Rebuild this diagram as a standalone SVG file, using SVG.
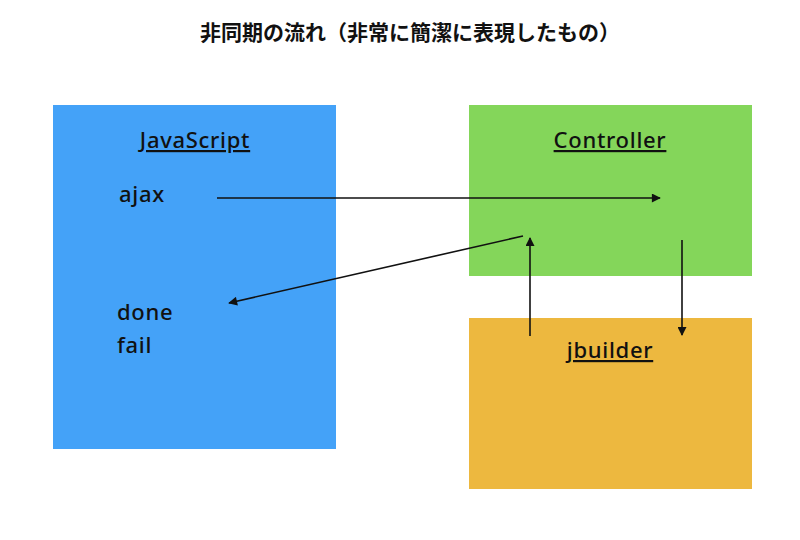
<svg xmlns="http://www.w3.org/2000/svg" width="800" height="540" viewBox="0 0 800 540">
<defs>
<style>
.lbl{font-family:"Noto Sans","Liberation Sans",Arial,sans-serif;font-size:22px;font-weight:500;fill:#111;letter-spacing:0.7px;}
.ttl{text-decoration:underline;}
.ln{stroke:#111;stroke-width:1.6;fill:none;marker-end:url(#ah);}
.title{font-family:"Noto Sans CJK JP","Noto Sans CJK SC",sans-serif;font-size:21px;font-weight:bold;fill:#111;}
</style>
<marker id="ah" viewBox="0 0 10 10" refX="9" refY="5" markerWidth="11" markerHeight="9" markerUnits="userSpaceOnUse" orient="auto">
<path d="M0,0 L10,5 L0,10 z" fill="#111"/>
</marker>
</defs>
<rect width="800" height="540" fill="#fff"/>
<text class="title" x="410" y="40" text-anchor="middle">非同期の流れ（非常に簡潔に表現したもの）</text>
<g id="javascript">
<rect x="53" y="105" width="283" height="344" fill="#44A2F8"/>
<text class="lbl ttl" x="195" y="148" text-anchor="middle">JavaScript</text>
<text class="lbl" x="119" y="202">ajax</text>
<text class="lbl" x="117" y="320">done</text>
<text class="lbl" x="117" y="353">fail</text>
</g>
<g id="controller">
<rect x="469" y="105" width="283" height="171" fill="#84D65A"/>
<text class="lbl ttl" x="610" y="148" text-anchor="middle">Controller</text>
</g>
<g id="jbuilder">
<rect x="469" y="318" width="283" height="171" fill="#EDB83F"/>
<text class="lbl ttl" x="610" y="358" text-anchor="middle">jbuilder</text>
</g>
<g id="connectors">
<line class="ln" x1="217" y1="198" x2="660" y2="198"/>
<line class="ln" x1="523" y1="236" x2="229" y2="303"/>
<line class="ln" x1="530" y1="336" x2="530" y2="238"/>
<line class="ln" x1="682" y1="240" x2="682" y2="335"/>
</g>
</svg>
